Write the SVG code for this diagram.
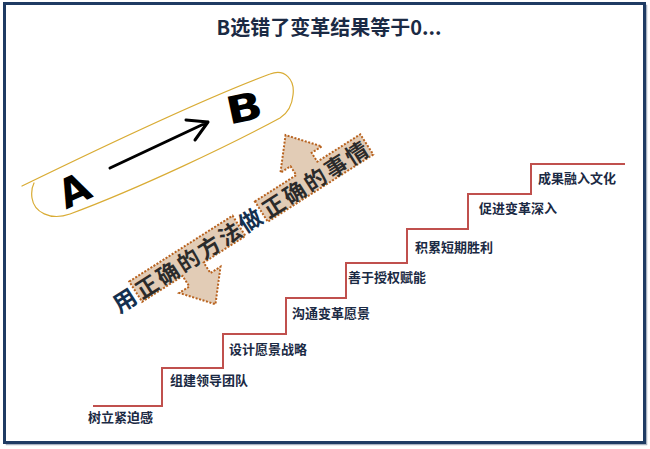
<svg xmlns="http://www.w3.org/2000/svg" width="650" height="449" viewBox="0 0 650 449">
<defs>
<style>
.t{font-family:"Noto Sans CJK SC","Noto Sans",sans-serif;font-weight:700}
.step{font-size:13px;fill:#1b2a44}
.stair{fill:none;stroke:#c0504d;stroke-width:2}
.band{fill:#e2ccb6;stroke:#b8621e;stroke-width:2;stroke-dasharray:2 1.6}
.bt{font-size:22px;fill:#2b2b2b;letter-spacing:2.6px}
.bn{font-size:23px;fill:#14304f}
.loop{fill:none;stroke:#d9ac35;stroke-width:1.2;stroke-linecap:round}
.pen{fill:none;stroke:#000;stroke-width:3;stroke-linecap:round;stroke-linejoin:round}
.hand{font-family:"DejaVu Sans",sans-serif;font-weight:700;fill:#000}
</style>
</defs>
<rect width="650" height="449" fill="#fff"/>
<rect x="6.5" y="5.5" width="640" height="439" fill="none" stroke="#a9b2c0" stroke-width="1.5"/>
<rect x="4.5" y="3.5" width="640" height="439" fill="#fff" stroke="#1f3b63" stroke-width="3"/>

<g id="title">
<text class="t" x="329" y="35" font-size="20" fill="#1b2a44" text-anchor="middle">B选错了变革结果等于0...</text>
</g>

<g id="sketch">
<path class="loop" d="M22,186 C100,148 200,100 270,74 C285,68 295,80 293,95 C292,106 288,113 280,118 C230,145 140,188 70,214 C50,221 34,212 32,198 C31,191 32,187 34,183"/>
<text class="hand" x="0" y="0" font-size="40" text-anchor="middle" transform="translate(80,203) rotate(-25)">A</text>
<text class="hand" x="0" y="0" font-size="38" text-anchor="middle" transform="translate(247,121) rotate(-12) scale(1.25,1)">B</text>
</g>

<g id="connectors">
<path class="pen" d="M110,168 L208,122 M186,120 L208,122 L195,140"/>
</g>

<g id="banner" transform="translate(236,229.5) rotate(-32.5)">
<path class="band" d="M-118,-13.5 L4.5,-13.5 L4.5,10.5 L-45,10.5 L-45,23 L-33,23 L-57.5,52 L-82,23 L-70,23 L-70,10.5 L-118,10.5 Z"/>
<path class="band" d="M31,-13.5 L80,-13.5 L80,-24 L68,-24 L92.5,-53 L117,-24 L105,-24 L105,-13.5 L156,-13.5 L156,10.5 L31,10.5 Z"/>
<text class="t bn" x="-132" y="8.5" text-anchor="middle">用</text>
<text class="t bt" x="-55.5" y="8.5" text-anchor="middle">正确的方法</text>
<text class="t bn" x="17" y="8.5" text-anchor="middle">做</text>
<text class="t bt" x="94.8" y="8.5" text-anchor="middle">正确的事情</text>
</g>

<g id="stairs">
<path class="stair" d="M93,406 H162 V368 H223 V334 H286 V298 H346 V263 H407 V229 H468 V194 H531 V164 H625"/>
</g>

<g id="step1"><text class="t step" x="88" y="422">树立紧迫感</text></g>
<g id="step2"><text class="t step" x="170" y="385">组建领导团队</text></g>
<g id="step3"><text class="t step" x="229" y="354">设计愿景战略</text></g>
<g id="step4"><text class="t step" x="292" y="318">沟通变革愿景</text></g>
<g id="step5"><text class="t step" x="348" y="282">善于授权赋能</text></g>
<g id="step6"><text class="t step" x="415" y="252">积累短期胜利</text></g>
<g id="step7"><text class="t step" x="479" y="213">促进变革深入</text></g>
<g id="step8"><text class="t step" x="538" y="183">成果融入文化</text></g>
</svg>
